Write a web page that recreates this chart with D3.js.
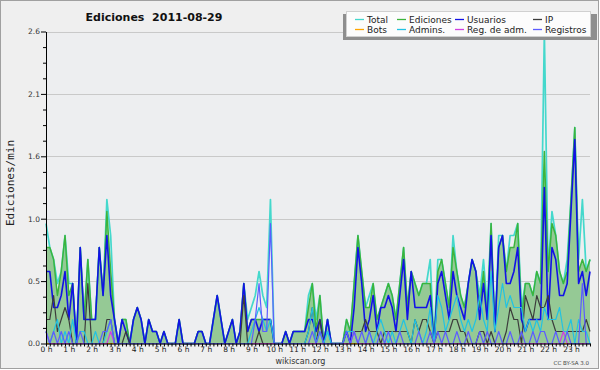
<!DOCTYPE html>
<html>
<head>
<meta charset="utf-8">
<script src="https://cdn.jsdelivr.net/npm/d3@7"></script>
<style>
  body { margin: 0; background: #fff; }
  svg text { font-family: "DejaVu Sans", sans-serif; }
</style>
</head>
<body>
<div id="chart"></div>
<script>

// ---- data (10 minute bins, edits per minute) ----
const hourLabels = ['0 h','1 h','2 h','3 h','4 h','5 h','6 h','7 h','8 h','9 h','10 h','11 h',
                    '12 h','13 h','14 h','15 h','16 h','17 h','18 h','19 h','20 h','21 h','22 h','23 h'];
const yTickValues = [0, 0.52, 1.04, 1.56, 2.08, 2.6];

const seriesNames = ['Total', 'Ediciones', 'Usuarios', 'IP', 'Bots', 'Admins.', 'Reg. de adm.', 'Registros'];
const seriesColors = ['#44d8cc', '#3cb43c', '#1212e6', '#3c3c3c', '#ffa500', '#22c2e2', '#d040e0', '#5c5cff'];

const total = [
  1.0, 0.8, 0.7, 0.5, 0.6, 0.9,   0.5, 0.5, 0.0, 0.8, 0.2, 0.7,   0.2, 0.2, 0.8, 0.4, 1.2, 0.9,
  0.2, 0.0, 0.2, 0.2, 0.0, 0.2,   0.3, 0.2, 0.0, 0.2, 0.1, 0.1,   0.0, 0.1, 0.0, 0.0, 0.0, 0.2,
  0.0, 0.0, 0.0, 0.0, 0.1, 0.1,   0.0, 0.0, 0.2, 0.4, 0.2, 0.0,   0.1, 0.2, 0.0, 0.1, 0.5, 0.2,
  0.3, 0.4, 0.6, 0.4, 0.3, 1.2,   0.0, 0.0, 0.0, 0.1, 0.0, 0.1,   0.1, 0.1, 0.1, 0.4, 0.5, 0.2,
  0.4, 0.0, 0.2, 0.0, 0.0, 0.0,   0.0, 0.2, 0.1, 0.5, 0.9, 0.6,   0.3, 0.4, 0.5, 0.2, 0.3, 0.4,
  0.5, 0.4, 0.2, 0.5, 0.8, 0.3,   0.6, 0.5, 0.4, 0.5, 0.5, 0.7,   0.0, 0.7, 0.7, 0.5, 0.3, 0.9,
  0.6, 0.4, 0.3, 0.5, 0.7, 0.6,   0.4, 0.7, 0.3, 1.0, 0.1, 0.9,   0.9, 0.6, 0.9, 0.9, 1.0, 0.3,
  0.5, 0.5, 0.4, 0.6, 0.5, 2.6,   0.6, 1.1, 0.9, 0.6, 0.5, 0.7,   1.2, 1.8, 0.7, 1.2, 0.6, 0.7
];
const ediciones = [
  0.8, 0.8, 0.7, 0.4, 0.6, 0.9,   0.4, 0.5, 0.0, 0.8, 0.2, 0.7,   0.2, 0.2, 0.8, 0.4, 1.1, 0.6,
  0.2, 0.0, 0.2, 0.2, 0.0, 0.2,   0.3, 0.2, 0.0, 0.2, 0.1, 0.1,   0.0, 0.1, 0.0, 0.0, 0.0, 0.2,
  0.0, 0.0, 0.0, 0.0, 0.1, 0.1,   0.0, 0.0, 0.2, 0.4, 0.2, 0.0,   0.1, 0.2, 0.0, 0.1, 0.5, 0.1,
  0.2, 0.2, 0.2, 0.2, 0.2, 0.2,   0.0, 0.0, 0.0, 0.1, 0.0, 0.1,   0.1, 0.1, 0.1, 0.3, 0.5, 0.1,
  0.4, 0.0, 0.2, 0.0, 0.0, 0.0,   0.0, 0.2, 0.1, 0.5, 0.9, 0.6,   0.3, 0.3, 0.5, 0.2, 0.3, 0.4,
  0.5, 0.4, 0.2, 0.5, 0.8, 0.3,   0.6, 0.5, 0.4, 0.5, 0.5, 0.5,   0.0, 0.6, 0.7, 0.5, 0.3, 0.8,
  0.6, 0.4, 0.3, 0.5, 0.7, 0.6,   0.3, 0.6, 0.2, 1.0, 0.1, 0.8,   0.9, 0.6, 0.8, 0.8, 1.0, 0.2,
  0.5, 0.5, 0.4, 0.6, 0.5, 1.6,   0.6, 1.0, 0.9, 0.6, 0.5, 0.6,   1.2, 1.8, 0.6, 0.7, 0.6, 0.7
];
const usuarios = [
  0.6, 0.6, 0.3, 0.3, 0.4, 0.6,   0.2, 0.5, 0.0, 0.8, 0.2, 0.2,   0.2, 0.2, 0.8, 0.4, 0.9, 0.4,
  0.2, 0.0, 0.2, 0.1, 0.0, 0.2,   0.3, 0.2, 0.0, 0.2, 0.1, 0.1,   0.0, 0.1, 0.0, 0.0, 0.0, 0.2,
  0.0, 0.0, 0.0, 0.0, 0.1, 0.1,   0.0, 0.0, 0.2, 0.4, 0.2, 0.0,   0.1, 0.2, 0.0, 0.1, 0.5, 0.1,
  0.2, 0.2, 0.1, 0.2, 0.2, 0.2,   0.0, 0.0, 0.0, 0.1, 0.0, 0.1,   0.1, 0.1, 0.1, 0.2, 0.2, 0.1,
  0.2, 0.0, 0.2, 0.0, 0.0, 0.0,   0.0, 0.1, 0.0, 0.3, 0.8, 0.5,   0.1, 0.2, 0.4, 0.1, 0.3, 0.3,
  0.4, 0.3, 0.1, 0.4, 0.7, 0.2,   0.6, 0.3, 0.3, 0.3, 0.3, 0.4,   0.0, 0.5, 0.6, 0.4, 0.2, 0.6,
  0.4, 0.3, 0.2, 0.5, 0.7, 0.6,   0.2, 0.5, 0.2, 0.9, 0.1, 0.8,   0.9, 0.5, 0.5, 0.6, 0.8, 0.2,
  0.1, 0.2, 0.2, 0.2, 0.2, 1.3,   0.2, 0.8, 0.7, 0.4, 0.4, 0.5,   1.1, 1.7, 0.5, 0.6, 0.4, 0.6
];
const ip = [
  0.2, 0.2, 0.4, 0.1, 0.2, 0.3,   0.2, 0.0, 0.0, 0.0, 0.0, 0.5,   0.0, 0.0, 0.0, 0.0, 0.2, 0.2,
  0.0, 0.0, 0.0, 0.1, 0.0, 0.0,   0.0, 0.0, 0.0, 0.0, 0.0, 0.0,   0.0, 0.0, 0.0, 0.0, 0.0, 0.0,
  0.0, 0.0, 0.0, 0.0, 0.0, 0.0,   0.0, 0.0, 0.0, 0.0, 0.0, 0.0,   0.0, 0.0, 0.0, 0.0, 0.4, 0.0,
  0.0, 0.0, 0.1, 0.0, 0.0, 0.0,   0.0, 0.0, 0.0, 0.0, 0.0, 0.0,   0.0, 0.0, 0.0, 0.1, 0.3, 0.0,
  0.2, 0.0, 0.0, 0.0, 0.0, 0.0,   0.0, 0.1, 0.1, 0.1, 0.1, 0.1,   0.2, 0.1, 0.1, 0.1, 0.0, 0.1,
  0.1, 0.1, 0.1, 0.1, 0.1, 0.1,   0.0, 0.2, 0.1, 0.2, 0.2, 0.1,   0.0, 0.1, 0.1, 0.1, 0.1, 0.2,
  0.2, 0.1, 0.1, 0.0, 0.0, 0.0,   0.1, 0.1, 0.0, 0.1, 0.0, 0.0,   0.0, 0.1, 0.3, 0.2, 0.2, 0.0,
  0.4, 0.3, 0.2, 0.4, 0.3, 0.3,   0.4, 0.2, 0.1, 0.1, 0.1, 0.1,   0.1, 0.1, 0.1, 0.1, 0.2, 0.1
];
const bots = [
  0, 0, 0, 0, 0, 0,   0, 0, 0, 0, 0, 0,   0, 0, 0, 0, 0, 0,   0, 0, 0, 0, 0, 0,
  0, 0, 0, 0, 0, 0,   0, 0, 0, 0, 0, 0,   0, 0, 0, 0, 0, 0,   0, 0, 0, 0, 0, 0,
  0, 0, 0, 0, 0, 0,   0, 0, 0, 0, 0, 0,   0, 0, 0, 0, 0, 0,   0, 0, 0, 0, 0, 0,
  0, 0, 0, 0, 0, 0,   0, 0, 0, 0, 0, 0,   0, 0, 0, 0, 0, 0,   0, 0, 0, 0, 0, 0,
  0, 0, 0, 0, 0, 0,   0, 0, 0, 0, 0, 0,   0, 0, 0, 0, 0, 0,   0, 0, 0, 0, 0, 0,
  0, 0, 0, 0, 0, 0,   0, 0, 0, 0, 0, 0,   0, 0, 0, 0, 0, 0,   0, 0, 0, 0, 0, 0
];
const admins = [
  0.1, 0.0, 0.1, 0.2, 0.0, 0.1,   0.0, 0.2, 0.0, 0.1, 0.1, 0.0,   0.0, 0.1, 0.0, 0.0, 0.1, 0.2,
  0.0, 0.0, 0.0, 0.0, 0.0, 0.0,   0.0, 0.0, 0.0, 0.0, 0.0, 0.0,   0.0, 0.0, 0.0, 0.0, 0.0, 0.0,
  0.0, 0.0, 0.0, 0.0, 0.0, 0.0,   0.0, 0.0, 0.0, 0.0, 0.0, 0.0,   0.0, 0.0, 0.0, 0.0, 0.0, 0.0,
  0.1, 0.2, 0.3, 0.2, 0.1, 0.2,   0.0, 0.0, 0.0, 0.0, 0.0, 0.0,   0.0, 0.0, 0.0, 0.1, 0.3, 0.0,
  0.1, 0.0, 0.1, 0.0, 0.0, 0.0,   0.0, 0.1, 0.1, 0.1, 0.0, 0.0,   0.0, 0.1, 0.0, 0.1, 0.2, 0.1,
  0.0, 0.1, 0.0, 0.1, 0.2, 0.1,   0.0, 0.2, 0.1, 0.0, 0.1, 0.3,   0.0, 0.4, 0.3, 0.1, 0.2, 0.3,
  0.4, 0.2, 0.1, 0.2, 0.1, 0.2,   0.4, 0.2, 0.1, 0.6, 0.1, 0.3,   0.5, 0.3, 0.4, 0.3, 0.3, 0.3,
  0.1, 0.2, 0.1, 0.2, 0.1, 0.3,   0.2, 0.2, 0.2, 0.3, 0.1, 0.1,   0.2, 0.0, 0.2, 0.1, 0.1, 0.0
];
const regAdm = [
  0.1, 0, 0, 0, 0, 0,   0, 0, 0, 0, 0, 0,   0, 0, 0, 0, 0, 0.1,   0, 0, 0, 0, 0, 0,
  0, 0, 0, 0, 0, 0,   0, 0, 0, 0, 0, 0,   0, 0, 0, 0, 0, 0,   0, 0, 0, 0, 0, 0,
  0, 0, 0, 0, 0, 0,   0, 0, 0, 0, 0, 0,   0, 0, 0, 0, 0, 0,   0, 0, 0, 0, 0, 0,
  0, 0, 0, 0, 0, 0,   0, 0, 0, 0.1, 0, 0,   0, 0, 0, 0, 0, 0,   0, 0, 0, 0, 0, 0,
  0, 0, 0, 0, 0, 0,   0, 0, 0, 0, 0, 0,   0, 0, 0, 0, 0, 0,   0, 0, 0, 0, 0, 0,
  0, 0, 0, 0, 0, 0,   0, 0, 0, 0, 0, 0,   0, 0, 0, 0, 0.1, 0,   0, 0, 0, 0, 0, 0,
  0, 0, 0, 0.2, 0, 0
].slice(0, 144);
const registros = [
  0.1, 0.0, 0.1, 0.0, 0.1, 0.0,   0.1, 0.0, 0.0, 0.1, 0.0, 0.0,   0.0, 0.0, 0.0, 0.1, 0.1, 0.2,
  0.0, 0.0, 0.0, 0.0, 0.0, 0.0,   0.0, 0.0, 0.0, 0.0, 0.0, 0.0,   0.0, 0.0, 0.0, 0.0, 0.0, 0.0,
  0.0, 0.0, 0.0, 0.0, 0.0, 0.0,   0.0, 0.0, 0.0, 0.0, 0.0, 0.0,   0.0, 0.0, 0.0, 0.0, 0.0, 0.0,
  0.0, 0.2, 0.5, 0.1, 0.1, 1.0,   0.0, 0.0, 0.0, 0.0, 0.0, 0.0,   0.0, 0.0, 0.0, 0.0, 0.1, 0.0,
  0.1, 0.0, 0.0, 0.0, 0.0, 0.0,   0.0, 0.1, 0.0, 0.1, 0.0, 0.1,   0.0, 0.1, 0.0, 0.0, 0.1, 0.0,
  0.1, 0.0, 0.0, 0.1, 0.0, 0.0,   0.0, 0.0, 0.1, 0.0, 0.0, 0.1,   0.0, 0.1, 0.0, 0.1, 0.0, 0.0,
  0.1, 0.0, 0.0, 0.1, 0.0, 0.0,   0.1, 0.0, 0.1, 0.0, 0.0, 0.1,   0.0, 0.0, 0.1, 0.0, 0.0, 0.1,
  0.0, 0.0, 0.1, 0.0, 0.1, 0.1,   0.0, 0.0, 0.1, 0.0, 0.0, 0.1,   0.0, 0.0, 0.0, 0.5, 0.0, 0.0
];

// ---- chart setup ----
const width = 600, height = 370;
const margins = { top: 31.5, bottom: 26.5, left: 46, right: 10 };

const svg = d3.select('#chart')
    .append('svg')
    .attr('width', width)
    .attr('height', height);

// background + frame
svg.append('rect')
    .attr('x', 0.5).attr('y', 0.5)
    .attr('width', 598).attr('height', 368)
    .attr('fill', '#efefef')
    .attr('stroke', '#a0a0a0');

const xScale = d3.scaleLinear()
    .domain([0, total.length - 1])
    .range([margins.left, width - margins.right]);

const yScale = d3.scaleLinear()
    .domain([0, 2.6])
    .range([height - margins.bottom, margins.top]);

// plot area
svg.append('rect')
    .attr('x', xScale(0)).attr('y', yScale(2.6))
    .attr('width', xScale(total.length - 1) - xScale(0))
    .attr('height', yScale(0) - yScale(2.6))
    .attr('fill', '#edeef0');

// grid lines
svg.append('g')
    .selectAll('line')
    .data(yTickValues)
    .join('line')
    .attr('x1', xScale(0))
    .attr('x2', xScale(total.length - 1))
    .attr('y1', d => Math.round(yScale(d)) + 0.5)
    .attr('y2', d => Math.round(yScale(d)) + 0.5)
    .attr('stroke', '#c9c9c9');

// area for Ediciones
const area = d3.area()
    .x((d, i) => xScale(i))
    .y0(yScale(0))
    .y1(d => yScale(d));

svg.append('path')
    .datum(ediciones)
    .attr('fill', '#95c995')
    .attr('d', area);

// lines
const lineGenerator = d3.line()
    .x((d, i) => xScale(i))
    .y(d => yScale(d));

const allSeries = [total, ediciones, usuarios, ip, bots, admins, regAdm, registros];
const widths = [1.7, 1.5, 1.6, 1.2, 1.2, 1.2, 1.2, 1.2];

allSeries.forEach((s, k) => {
    svg.append('path')
        .datum(s)
        .attr('fill', 'none')
        .attr('stroke', seriesColors[k])
        .attr('stroke-width', widths[k])
        .attr('stroke-linejoin', 'round')
        .attr('d', lineGenerator);
});

// axes
svg.append('g')
    .attr('class', 'x-axis')
    .attr('transform', `translate(0,${yScale(0)})`)
    .call(d3.axisBottom(xScale)
        .tickValues(d3.range(0, total.length))
        .tickSize(3)
        .tickSizeOuter(0)
        .tickPadding(0.5)
        .tickFormat(d => d % 6 === 0 ? hourLabels[d / 6] : ''));

const minorY = d3.range(0, 21).map(d => d * 0.13).filter((d, i) => i % 4 !== 0);

svg.append('g')
    .attr('transform', `translate(${margins.left},0)`)
    .call(d3.axisLeft(yScale).tickValues(minorY).tickSize(3).tickFormat(''))
    .select('.domain').remove();

svg.append('g')
    .attr('transform', `translate(${margins.left},0)`)
    .call(d3.axisLeft(yScale)
        .tickValues(yTickValues)
        .tickSize(5)
        .tickSizeOuter(0)
        .tickPadding(1)
        .tickFormat(d3.format('.1f')));

svg.selectAll('.tick text')
    .attr('font-family', '"DejaVu Sans", sans-serif')
    .attr('font-size', 7.5)
    .attr('fill', '#333');
svg.selectAll('.x-axis .tick text').attr('fill', '#1a1a1a');
svg.selectAll('.domain, .tick line').attr('stroke', '#000');

// titles
svg.append('text')
    .attr('x', 154).attr('y', 20.5)
    .attr('text-anchor', 'middle')
    .attr('font-weight', 'bold')
    .attr('font-size', 11)
    .attr('fill', '#111')
    .style('white-space', 'pre')
    .text('Ediciones  2011-08-29');

svg.append('text')
    .attr('transform', 'translate(13.5,183) rotate(-90)')
    .attr('text-anchor', 'middle')
    .attr('font-size', 11)
    .attr('fill', '#222')
    .style('font-family', '"DejaVu Sans Mono", monospace')
    .text('Ediciones/min');

svg.append('text')
    .attr('x', 300.5).attr('y', 363.5)
    .attr('text-anchor', 'middle')
    .attr('font-size', 8)
    .attr('fill', '#333')
    .text('wikiscan.org');

svg.append('text')
    .attr('x', 589).attr('y', 365)
    .attr('text-anchor', 'end')
    .attr('font-size', 5.5)
    .attr('fill', '#444')
    .text('CC BY-SA 3.0');

// legend
const legendGroup = svg.append('g');
legendGroup.append('rect')
    .attr('x', 343).attr('y', 14).attr('width', 254).attr('height', 26)
    .attr('fill', '#8e8e8e');
legendGroup.append('rect')
    .attr('x', 346.5).attr('y', 11.5).attr('width', 244).attr('height', 25)
    .attr('fill', '#fcfcfc')
    .attr('stroke', '#d0d0d0');

const colX = [355, 397, 455, 533];
const rowY = [19.5, 29.5];

for (let i = 0; i < seriesNames.length; i++) {
    const cx = colX[i % 4];
    const cy = rowY[Math.floor(i / 4)];
    legendGroup.append('line')
        .attr('x1', cx).attr('x2', cx + 9)
        .attr('y1', cy).attr('y2', cy)
        .attr('stroke', seriesColors[i])
        .attr('stroke-width', 1.3);
    legendGroup.append('text')
        .attr('x', cx + 12)
        .attr('y', cy + 3)
        .attr('font-size', 9)
        .attr('fill', '#222')
        .text(seriesNames[i]);
}

</script>
</body>
</html>
